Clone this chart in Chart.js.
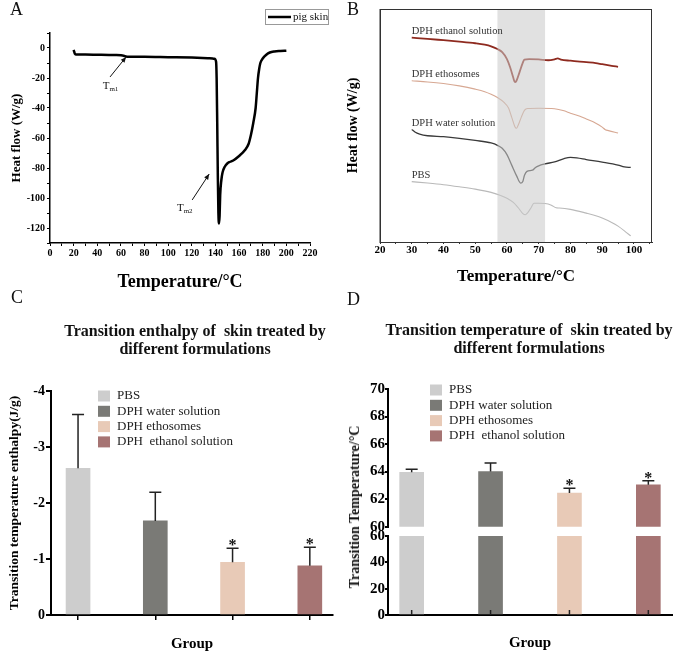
<!DOCTYPE html>
<html>
<head>
<meta charset="utf-8">
<script src="https://cdn.jsdelivr.net/npm/chart.js@4.4.1/dist/chart.umd.min.js"></script>
<style>
body { margin: 0; background: #fff; }
#wrap { position: relative; width: 677px; height: 653px; overflow: hidden; font-family: "Liberation Serif", serif; color: #111; }
canvas { position: absolute; }
.letter { position: absolute; font-size: 18px; line-height: 1; }
.ttl { position: absolute; font-weight: bold; font-size: 16px; line-height: 18px; white-space: pre; text-align: center; }
.rot { position: absolute; font-weight: bold; font-size: 14px; white-space: nowrap; transform: translate(-50%, -50%) rotate(-90deg); }
</style>
</head>
<body>
<div id="wrap">
  <canvas id="chartA" width="340" height="300" style="left:0;top:0"></canvas>
  <canvas id="chartB" width="337" height="300" style="left:340px;top:0"></canvas>
  <canvas id="chartC" width="340" height="353" style="left:0;top:300px"></canvas>
  <canvas id="chartD1" width="337" height="353" style="left:340px;top:300px"></canvas>
  <canvas id="chartD2" width="337" height="127" style="left:340px;top:526px"></canvas>
  <div class="letter" style="left:10px;top:0">A</div>
  <div class="letter" style="left:347px;top:0">B</div>
  <div class="letter" style="left:11px;top:288px">C</div>
  <div class="letter" style="left:347px;top:290px">D</div>
  <div class="ttl" style="left:45px;top:322px;width:300px">Transition enthalpy of  skin treated by
different formulations</div>
  <div class="ttl" style="left:369px;top:321px;width:320px">Transition temperature of  skin treated by
different formulations</div>
  <div class="rot" style="left:355px;top:507px">Transition Temperature/°C</div>
</div>
<script>
// panel A - pig skin DSC
const aTemp = [20, 20.5, 21, 22, 25, 30, 40, 50, 55, 60, 63, 66, 70, 80, 100, 120, 135, 139, 140.5,
  141, 141.5, 142, 142.5, 143, 143.5, 144, 145, 146, 148, 150, 152, 155, 160, 165, 168, 170, 172,
  174, 175, 176, 177, 178, 180, 183, 186, 190, 195, 200];
const aHeat = [-1.3, -2.5, -3.8, -4.3, -4.4, -4.4, -4.5, -4.6, -4.7, -4.9, -5.3, -5.9, -5.8, -5.8, -6.1, -6.4, -6.8, -7.2, -9,
  -20, -50, -85, -110, -117, -112, -98, -88, -83, -79, -77, -76, -75, -72, -68, -64, -58, -50,
  -40, -30, -20, -14, -10, -7, -4.5, -3, -2.3, -2, -1.8];

// panel B - treated skin curves (arbitrary heat flow units)
const bNames = ['DPH ethanol solution', 'DPH ethosomes', 'DPH water solution', 'PBS'];
const bEthanolT = [30, 35, 40, 45, 50, 53, 55, 57, 58.5, 60, 61, 62, 62.5, 63, 64, 65, 65.5, 67, 70, 73, 75, 76, 77, 80, 85, 88, 90, 93, 95];
const bEthanolH = [87.7, 87.2, 86.6, 86.0, 85.3, 84.7, 84.0, 82.8, 81.5, 78.5, 75, 70.5, 68.6, 69.2, 73, 77, 78.3, 78.5, 78.4, 78.0, 78.4, 78.8, 78.3, 77.8, 77.2, 76.8, 76.3, 75.6, 75.2];
const bEthoT = [30, 35, 40, 45, 50, 53, 55, 57, 59, 60.5, 61.5, 62.5, 63, 63.5, 64.5, 65.5, 66.5, 70, 75, 78, 80, 83, 85, 88, 90, 91, 92, 95];
const bEthoH = [69.2, 68.7, 68.0, 67.0, 65.6, 64.5, 63.4, 62, 60, 57.5, 53.5, 49.5, 48.8, 50, 53.5, 56.5, 57.3, 57.4, 57.2, 56.3, 55.3, 54, 52.8, 51, 49.3, 48.2, 47.8, 46.8];
const bWaterT = [30, 31, 32.5, 35, 40, 45, 50, 55, 57, 58.5, 60, 61.5, 63, 64.3, 65, 65.5, 66.3, 68, 69, 70, 72, 75, 78, 80, 82, 85, 90, 95, 97, 99];
const bWaterH = [48.3, 47.2, 46.3, 45.6, 45.2, 44.5, 43.6, 42.5, 41.5, 40.2, 37.5, 33, 28.5, 25.3, 26, 28.5, 30.3, 30.8, 32, 32.7, 33.5, 34.4, 35.8, 36.3, 36.1, 35.4, 34.3, 33.0, 32.2, 32.0];
const bPbsT = [30, 35, 40, 45, 50, 55, 58, 60, 62, 63.5, 65, 65.8, 66.5, 67.5, 68.5, 70, 72, 74, 75.5, 76.5, 80, 85, 88, 90, 93, 95, 97, 99];
const bPbsH = [25.9, 25.3, 24.6, 23.7, 22.7, 21.3, 20, 18.8, 17, 14.8, 12.2, 11.7, 12.5, 14.5, 16.6, 16.6, 16.5, 15.8, 14.7, 14.6, 14.0, 12.4, 11.3, 10.3, 8.4, 6.8, 4.8, 2.6];
const bBand = [57, 72];

// panels C and D - bar groups
const groups = ['PBS', 'DPH water solution', 'DPH ethosomes', 'DPH  ethanol solution'];
const cEnthalpy = [-2.62, -1.68, -0.94, -0.88];
const cErr = [0.96, 0.51, 0.25, 0.33];
const dTemp = [63.95, 64.0, 62.44, 63.04];
const dErr = [0.23, 0.63, 0.36, 0.29];
const signif = [false, false, true, true];
const barColors = ['#cdcdcd', '#7a7a76', '#e8cab7', '#a67473'];

const SERIF = '"Liberation Serif", "Times New Roman", serif';
Chart.defaults.font.family = SERIF;
Chart.defaults.color = '#000';

function pts(xs, ys) { return xs.map((v, i) => ({ x: v, y: ys[i] })); }

// ---- A ----
const aDecor = {
  id: 'aDecor',
  afterDraw(chart) {
    const { ctx, scales: { x, y } } = chart;
    ctx.save();
    ctx.strokeStyle = '#111';
    ctx.fillStyle = '#111';
    ctx.lineWidth = 1;
    const marks = [
      { tail: [50.8, -19.3], head: [64.4, -6], txt: [44.6, -24.7], sub: 'm1' },
      { tail: [120.3, -101.3], head: [134.7, -84], txt: [107.4, -105.8], sub: 'm2' }
    ];
    marks.forEach(m => {
      const x1 = x.getPixelForValue(m.tail[0]), y1 = y.getPixelForValue(m.tail[1]);
      const x2 = x.getPixelForValue(m.head[0]), y2 = y.getPixelForValue(m.head[1]);
      const ang = Math.atan2(y2 - y1, x2 - x1);
      ctx.beginPath(); ctx.moveTo(x1, y1); ctx.lineTo(x2, y2); ctx.stroke();
      ctx.beginPath();
      ctx.moveTo(x2, y2);
      ctx.lineTo(x2 - 6 * Math.cos(ang - 0.4), y2 - 6 * Math.sin(ang - 0.4));
      ctx.lineTo(x2 - 6 * Math.cos(ang + 0.4), y2 - 6 * Math.sin(ang + 0.4));
      ctx.closePath(); ctx.fill();
      const tx = x.getPixelForValue(m.txt[0]), ty = y.getPixelForValue(m.txt[1]);
      ctx.textBaseline = 'alphabetic';
      ctx.font = '11px ' + SERIF;
      ctx.fillText('T', tx, ty + 4);
      const w = ctx.measureText('T').width;
      ctx.font = '7px ' + SERIF;
      ctx.fillText(m.sub, tx + w, ty + 6);
    });
    // legend box
    ctx.strokeStyle = '#999';
    ctx.strokeRect(265.5, 9.5, 63, 15);
    ctx.strokeStyle = '#000';
    ctx.lineWidth = 2.5;
    ctx.beginPath(); ctx.moveTo(268, 17); ctx.lineTo(291, 17); ctx.stroke();
    ctx.font = '11px ' + SERIF;
    ctx.textBaseline = 'middle';
    ctx.fillText(chart.data.datasets[0].label, 293, 17);
    ctx.restore();
  }
};

new Chart(document.getElementById('chartA'), {
  type: 'line',
  data: {
    datasets: [{
      label: 'pig skin',
      data: pts(aTemp, aHeat),
      borderColor: '#000',
      borderWidth: 2.5,
      pointRadius: 0,
      cubicInterpolationMode: 'monotone'
    }]
  },
  options: {
    responsive: false,
    animation: false,
    layout: { padding: { left: 0, right: 30, top: 33, bottom: 0 } },
    plugins: { legend: { display: false }, tooltip: { enabled: false } },
    scales: {
      x: {
        type: 'linear', min: 0, max: 220,
        ticks: { stepSize: 10, includeBounds: false, autoSkip: false, maxRotation: 0, padding: 1,
          font: { size: 10, weight: 'bold' }, callback: v => (v % 20 === 0 ? v : '') },
        grid: { drawOnChartArea: false, tickLength: 3, color: '#000' },
        border: { color: '#000', width: 1.5 },
        title: { display: true, text: 'Temperature/°C', font: { size: 18, weight: 'bold' }, padding: { top: 0, bottom: 7 } },
        afterFit: s => { s.height = 57; }
      },
      y: {
        min: -130, max: 10,
        ticks: { stepSize: 10, includeBounds: false, autoSkip: false, padding: 2,
          font: { size: 10, weight: 'bold' }, callback: v => (v % 20 === 0 ? v : '') },
        grid: { drawOnChartArea: false, tickLength: 3, color: '#000' },
        border: { color: '#000', width: 1.5 },
        title: { display: true, text: 'Heat flow (W/g)', font: { size: 13, weight: 'bold' }, padding: { top: 9, bottom: 0 } },
        afterFit: s => { s.width = 50; }
      }
    }
  },
  plugins: [aDecor]
});

// ---- B ----
const bDecor = {
  id: 'bDecor',
  afterDatasetsDraw(chart) {
    const { ctx, chartArea: ca, scales: { x } } = chart;
    ctx.save();
    ctx.fillStyle = 'rgba(200,200,200,0.55)';
    const x1 = x.getPixelForValue(bBand[0]), x2 = x.getPixelForValue(bBand[1]);
    ctx.fillRect(x1, ca.top, x2 - x1, ca.bottom - ca.top);
    ctx.restore();
  },
  afterDraw(chart) {
    const { ctx, chartArea: ca, scales: { x, y } } = chart;
    ctx.save();
    ctx.strokeStyle = '#333';
    ctx.lineWidth = 1;
    ctx.strokeRect(ca.left, ca.top + 0.5, ca.right - ca.left - 0.5, ca.bottom - ca.top);
    ctx.font = '10.5px ' + SERIF;
    ctx.fillStyle = '#333';
    ctx.textBaseline = 'bottom';
    chart.data.datasets.forEach(ds => {
      const p = ds.data[0];
      ctx.fillText(ds.label, x.getPixelForValue(p.x), y.getPixelForValue(p.y) - 1);
    });
    ctx.restore();
  }
};

new Chart(document.getElementById('chartB'), {
  type: 'line',
  data: {
    datasets: [
      { label: bNames[0], data: pts(bEthanolT, bEthanolH), borderColor: '#8e2a1f', borderWidth: 1.8 },
      { label: bNames[1], data: pts(bEthoT, bEthoH), borderColor: '#d7a893', borderWidth: 1.1 },
      { label: bNames[2], data: pts(bWaterT, bWaterH), borderColor: '#3a3a3a', borderWidth: 1.3 },
      { label: bNames[3], data: pts(bPbsT, bPbsH), borderColor: '#b9b9b9', borderWidth: 1.1 }
    ].map(d => Object.assign(d, { pointRadius: 0, cubicInterpolationMode: 'monotone' }))
  },
  options: {
    responsive: false,
    animation: false,
    layout: { padding: { left: 0, right: 25, top: 9, bottom: 0 } },
    plugins: { legend: { display: false }, tooltip: { enabled: false } },
    scales: {
      x: {
        type: 'linear', min: 20, max: 105.7,
        ticks: { stepSize: 5, includeBounds: false, autoSkip: false, maxRotation: 0, padding: 0,
          font: { size: 11, weight: 'bold' }, callback: v => (v % 10 === 0 ? v : '') },
        grid: { drawOnChartArea: false, tickLength: 2, color: '#333' },
        border: { color: '#333', width: 1 },
        title: { display: true, text: 'Temperature/°C', font: { size: 17, weight: 'bold' }, padding: { top: 0, bottom: 13 } },
        afterFit: s => { s.height = 58; }
      },
      y: {
        min: 0, max: 100,
        ticks: { display: false },
        grid: { display: false },
        border: { color: '#333', width: 1 },
        title: { display: true, text: 'Heat flow (W/g)', font: { size: 14, weight: 'bold' }, padding: { top: 5, bottom: 0 } },
        afterFit: s => { s.width = 40; }
      }
    }
  },
  plugins: [bDecor]
});

// ---- C and D shared plugins ----
const errorBars = {
  id: 'errorBars',
  afterDatasetsDraw(chart, args, opts) {
    const { ctx } = chart;
    const meta = chart.getDatasetMeta(0);
    const ys = chart.scales.y;
    const ds = chart.data.datasets[0];
    ctx.save();
    ctx.strokeStyle = '#222';
    ctx.fillStyle = '#111';
    ctx.lineWidth = 1.5;
    if (opts.inTicks) {
      // small inward ticks at the group centres (D lower axis)
      meta.data.forEach(bar => {
        ctx.beginPath(); ctx.moveTo(bar.x, chart.chartArea.bottom); ctx.lineTo(bar.x, chart.chartArea.bottom - 5); ctx.stroke();
      });
    }
    if (!opts.err) { ctx.restore(); return; }
    meta.data.forEach((bar, i) => {
      const v = ds.data[i].y;
      const yTop = ys.getPixelForValue(v + Math.sign(v) * opts.err[i]);
      ctx.beginPath();
      ctx.moveTo(bar.x, bar.y); ctx.lineTo(bar.x, yTop);
      ctx.moveTo(bar.x - opts.cap / 2, yTop); ctx.lineTo(bar.x + opts.cap / 2, yTop);
      ctx.stroke();
      if (signif[i]) {
        ctx.font = 'bold 16px ' + SERIF;
        ctx.textAlign = 'center';
        ctx.textBaseline = 'alphabetic';
        ctx.fillText('*', bar.x, yTop + 2);
      }
    });
    ctx.restore();
  }
};

const boxLegend = {
  id: 'boxLegend',
  afterDraw(chart, args, opts) {
    if (opts.dx === undefined) return;
    const { ctx, chartArea: ca } = chart;
    ctx.save();
    ctx.font = '13px ' + SERIF;
    ctx.textBaseline = 'middle';
    groups.forEach((name, i) => {
      const y = ca.top + opts.dy + i * 15.3;
      ctx.fillStyle = barColors[i];
      ctx.fillRect(ca.left + opts.dx, y - 5.5, 12, 11);
      ctx.fillStyle = '#222';
      ctx.fillText(name, ca.left + opts.dx + 19, y);
    });
    ctx.restore();
  }
};

function barSet(vals) {
  return [{
    data: vals.map((v, i) => ({ x: i, y: v })),
    backgroundColor: barColors,
    barThickness: 24,
    clip: 0
  }];
}

// ---- C ----
new Chart(document.getElementById('chartC'), {
  type: 'bar',
  data: { datasets: barSet(cEnthalpy) },
  options: {
    responsive: false,
    animation: false,
    layout: { padding: { left: 0, right: 7, top: 91, bottom: 0 } },
    plugins: {
      legend: { display: false }, tooltip: { enabled: false },
      errorBars: { err: cErr, cap: 12 },
      boxLegend: { dx: 47, dy: 5 }
    },
    scales: {
      x: {
        type: 'linear', min: -0.35, max: 3.3, offset: false,
        ticks: { stepSize: 1, includeBounds: false, display: false },
        grid: { offset: false, drawOnChartArea: false, tickLength: 5, color: '#000', lineWidth: 1.5 },
        border: { color: '#000', width: 2 },
        title: { display: true, text: 'Group', font: { size: 15, weight: 'bold' }, padding: { top: 0, bottom: 0 } },
        afterFit: s => { s.height = 38; }
      },
      y: {
        min: -4, max: 0, reverse: true,
        ticks: { stepSize: 1, padding: 1, font: { size: 14, weight: 'bold' } },
        grid: { drawOnChartArea: false, tickLength: 5, color: '#000', lineWidth: 2 },
        border: { color: '#000', width: 2 },
        title: { display: true, text: 'Transition temperature enthalpy(J/g)', font: { size: 13.5, weight: 'bold' }, padding: { top: 6, bottom: 0 } },
        afterFit: s => { s.width = 51; }
      }
    }
  },
  plugins: [errorBars, boxLegend]
});

// ---- D (broken axis: upper 60-70, lower 0-60) ----
const dX = {
  type: 'linear', min: -0.3, max: 3.3, offset: false,
  ticks: { stepSize: 1, includeBounds: false, display: false },
  grid: { offset: false, drawOnChartArea: false, drawTicks: false },
  border: { color: '#000', width: 2 }
};
function dY(min, max, step) {
  return {
    min: min, max: max,
    ticks: { stepSize: step, padding: 0, font: { size: 15, weight: 'bold' } },
    grid: { drawOnChartArea: false, tickLength: 3, color: '#000', lineWidth: 2 },
    border: { color: '#000', width: 2 },
    afterFit: s => { s.width = 48; }
  };
}

new Chart(document.getElementById('chartD1'), {
  type: 'bar',
  data: { datasets: barSet(dTemp) },
  options: {
    responsive: false,
    animation: false,
    layout: { padding: { left: 0, right: 5, top: 89, bottom: 126.3 } },
    plugins: {
      legend: { display: false }, tooltip: { enabled: false },
      errorBars: { err: dErr, cap: 12 },
      boxLegend: { dx: 42, dy: 1 }
    },
    scales: {
      x: Object.assign({}, dX, { display: false }),
      y: dY(60, 70, 2)
    }
  },
  plugins: [errorBars, boxLegend]
});

new Chart(document.getElementById('chartD2'), {
  type: 'bar',
  data: { datasets: barSet(dTemp) },
  options: {
    responsive: false,
    animation: false,
    layout: { padding: { left: 0, right: 5, top: 10, bottom: 0 } },
    plugins: { legend: { display: false }, tooltip: { enabled: false }, errorBars: { inTicks: true } },
    scales: {
      x: Object.assign({}, dX, {
        title: { display: true, text: 'Group', font: { size: 15, weight: 'bold' }, padding: { top: 0, bottom: 1 } },
        afterFit: s => { s.height = 38; }
      }),
      y: dY(0, 60, 20)
    }
  },
  plugins: [errorBars]
});
</script>
</body>
</html>
